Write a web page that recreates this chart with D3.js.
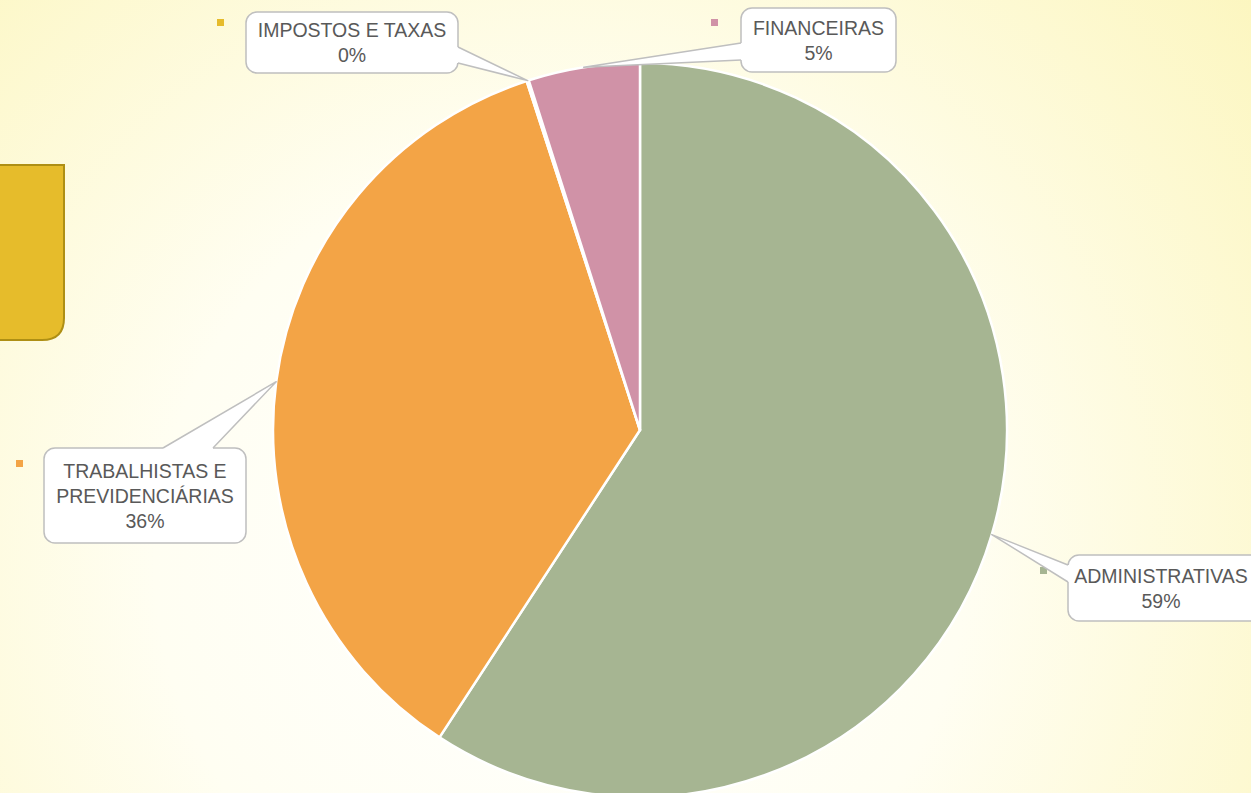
<!DOCTYPE html>
<html><head><meta charset="utf-8">
<script src="https://cdn.jsdelivr.net/npm/d3@7"></script>
<style>html,body{margin:0;padding:0;overflow:hidden;}svg{display:block;}</style>
</head><body>
<svg id="chart" width="1251" height="793"></svg>
<script>
// ---- data ----
const categories = ["ADMINISTRATIVAS", "TRABALHISTAS E PREVIDENCIÁRIAS", "IMPOSTOS E TAXAS", "FINANCEIRAS"];
const labelLines = [["ADMINISTRATIVAS"], ["TRABALHISTAS E", "PREVIDENCIÁRIAS"], ["IMPOSTOS E TAXAS"], ["FINANCEIRAS"]];
const values = [59.2, 35.8, 0.1, 4.9];
const colors = ["#a6b592", "#f3a446", "#e6bb2c", "#d092a7"];

// ---- layout ----
const W = 1251, H = 793;
const cx = 640, cy = 430, R = 367;
// callout boxes: x, y, w, h, wedge side, wedge base offsets along side
const boxes = [
  {x: 1068, y: 555, w: 200, h: 66, side: "left", b0: 10, b1: 27},
  {x: 44, y: 448, w: 202, h: 95, side: "top", b0: 119, b1: 169},
  {x: 246, y: 12, w: 212, h: 61, side: "right", b0: 35, b1: 51},
  {x: 741, y: 8, w: 155, h: 64, side: "left", b0: 35, b1: 52}
];
const markers = [[1040, 567], [16, 460], [217, 19], [711, 19]];

const svg = d3.select("#chart");
const defs = svg.append("defs");
const grad = defs.append("radialGradient").attr("id", "bg")
  .attr("gradientUnits", "userSpaceOnUse").attr("cx", 560).attr("cy", 560).attr("r", 900);
grad.append("stop").attr("offset", "0").attr("stop-color", "#ffffff");
grad.append("stop").attr("offset", "0.45").attr("stop-color", "#fffef2");
grad.append("stop").attr("offset", "1").attr("stop-color", "#fcf6bf");
svg.append("rect").attr("width", W).attr("height", H).attr("fill", "url(#bg)");

// decorative yellow tab at left
const tr = 22;
svg.append("path")
  .attr("d", `M-5,165 L64,165 L64,${340 - tr} Q64,340 ${64 - tr},340 L-5,340 Z`)
  .attr("fill", "#e6bc2b").attr("stroke", "#ae8f14").attr("stroke-width", 2);

// ---- pie ----
const pie = d3.pie().sort(null).value(d => d)(values);
const arc = d3.arc().innerRadius(0).outerRadius(R);
const g = svg.append("g").attr("transform", `translate(${cx},${cy})`);
g.selectAll("path.slice").data(pie).join("path").attr("class", "slice")
  .attr("d", arc).attr("fill", (d, i) => colors[i])
  .attr("stroke", "#ffffff").attr("stroke-width", 2.5).attr("stroke-linejoin", "round");

// ---- markers ----
svg.selectAll("rect.mk").data(markers).join("rect").attr("class", "mk")
  .attr("x", d => d[0]).attr("y", d => d[1]).attr("width", 7).attr("height", 7)
  .attr("fill", (d, i) => colors[i]);

// ---- callouts ----
const total = d3.sum(values);
pie.forEach((d, i) => {
  const b = boxes[i];
  const mid = (d.startAngle + d.endAngle) / 2;
  const tip = [cx + R * Math.sin(mid), cy - R * Math.cos(mid)];
  let p0, p1, q0, q1;
  if (b.side === "left") { p0 = [b.x, b.y + b.b0]; p1 = [b.x, b.y + b.b1]; q0 = [b.x + 3, p0[1]]; q1 = [b.x + 3, p1[1]]; }
  if (b.side === "right") { p0 = [b.x + b.w, b.y + b.b0]; p1 = [b.x + b.w, b.y + b.b1]; q0 = [p0[0] - 3, p0[1]]; q1 = [p1[0] - 3, p1[1]]; }
  if (b.side === "top") { p0 = [b.x + b.b0, b.y]; p1 = [b.x + b.b1, b.y]; q0 = [p0[0], b.y + 3]; q1 = [p1[0], b.y + 3]; }
  const cg = svg.append("g");
  cg.append("rect").attr("x", b.x).attr("y", b.y).attr("width", b.w).attr("height", b.h)
    .attr("rx", 11).attr("fill", "#ffffff").attr("stroke", "#bfbfbf").attr("stroke-width", 1.5);
  cg.append("path").attr("d", `M${q0}L${p0}L${tip}L${p1}L${q1}Z`).attr("fill", "#ffffff");
  cg.append("path").attr("d", `M${p0}L${tip}L${p1}`).attr("fill", "none")
    .attr("stroke", "#bfbfbf").attr("stroke-width", 1.5).attr("stroke-linejoin", "round");
  const lines = labelLines[i].concat([Math.round(values[i] / total * 100) + "%"]);
  const lh = 25;
  const tcx = b.x + (i === 0 ? 93 : b.w / 2);
  const top = b.y + b.h / 2 - (lines.length - 1) * lh / 2;
  cg.selectAll("text").data(lines).join("text")
    .attr("x", tcx).attr("y", (t, k) => top + k * lh)
    .attr("dy", "0.36em").attr("text-anchor", "middle")
    .attr("font-family", "'Century Gothic', 'Liberation Sans', Arial, sans-serif")
    .attr("font-size", 19.5).attr("fill", "#595959").text(t => t);
});
</script>
</body></html>
